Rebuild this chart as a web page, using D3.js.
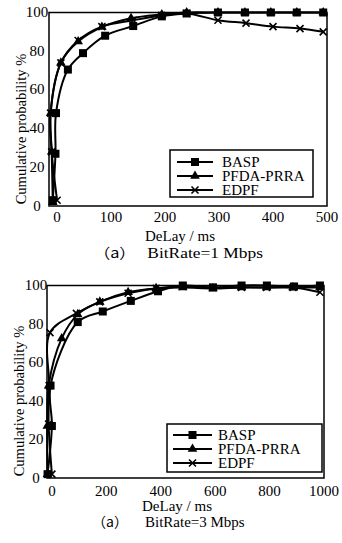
<!DOCTYPE html>
<html><head><meta charset="utf-8">
<script src="https://cdn.jsdelivr.net/npm/d3@7"></script>
<style>
body{margin:0;background:#fff;}
svg{display:block;}
text{font-family:"Liberation Serif","Times New Roman",serif;fill:#000;}
</style></head>
<body>
<script>
// ---------- data ----------
const seriesNames = ["BASP", "PFDA-PRRA", "EDPF"];
const yTicks = [0, 20, 40, 60, 80, 100];
const xTicks1 = [0, 100, 200, 300, 400, 500];
const xTicks2 = [0, 200, 400, 600, 800, 1000];

// Chart (a) BitRate = 1 Mbps
const basp1X = [-8, -3, -2, 20, 48, 89, 141, 194, 240, 298, 348, 396, 444, 493];
const basp1Y = [3, 27, 48, 70.5, 79, 88, 93, 98, 99.5, 100, 100, 100, 100, 100];
const pfda1X = [-8, -10, -12, 7, 39, 83, 137, 194, 240, 298, 348, 396, 444, 493];
const pfda1Y = [2, 28, 48, 74, 85, 92.5, 97, 99, 100, 100, 100, 100, 100, 100];
const edpf1X = [0, -10, -12, 7, 39, 83, 141, 194, 240, 298, 350, 400, 450, 493];
const edpf1Y = [3, 28, 48, 74, 85.5, 92.7, 96, 98.5, 99.5, 96, 94.5, 92.7, 91.7, 90];

// Chart (a) BitRate = 3 Mbps
const basp2X = [-16, 0, -5, 95, 187, 290, 390, 481, 592, 697, 790, 890, 985];
const basp2Y = [2, 27, 48, 81, 86.5, 92, 97, 100, 99, 100, 100, 99.5, 100];
const pfda2X = [-16, -17, -12, 36, 95, 176, 280, 383, 481, 592, 697, 789, 886, 985];
const pfda2Y = [2, 27, 48, 72.5, 85, 91.5, 96.5, 98.5, 99, 98.5, 99, 99, 99, 99];
const edpf2X = [0, -12, -10, -7, 90, 176, 280, 383, 481, 592, 697, 789, 886, 985];
const edpf2Y = [2, 28, 48, 75.5, 85.5, 91.5, 96, 98.5, 99.5, 99, 99, 99, 99, 96.5];

// ---------- drawing ----------
const svg = d3.select("body").append("svg").attr("width", 342).attr("height", 543);

function marker(g, type, cx, cy) {
  if (type === "square") {
    g.append("rect").attr("x", cx - 4).attr("y", cy - 4).attr("width", 8).attr("height", 8).attr("fill", "#000");
  } else if (type === "triangle") {
    g.append("path").attr("d", d3.symbol().type(d3.symbolTriangle).size(40)()).attr("transform", `translate(${cx},${cy})`).attr("fill", "#000");
  } else {
    const s = 3.5;
    g.append("path").attr("d", `M${cx - s},${cy - s}L${cx + s},${cy + s}M${cx - s},${cy + s}L${cx + s},${cy - s}`)
      .attr("stroke", "#000").attr("stroke-width", 1.6).attr("fill", "none");
  }
}

function drawChart(cfg) {
  const x = d3.scaleLinear().domain(cfg.xDomain).range([cfg.left, cfg.right]);
  const y = d3.scaleLinear().domain([0, 100]).range([cfg.bottom, cfg.top]);
  const g = svg.append("g");

  // frame
  g.append("rect").attr("x", cfg.left).attr("y", cfg.top)
    .attr("width", cfg.right - cfg.left).attr("height", cfg.bottom - cfg.top)
    .attr("fill", "none").attr("stroke", "#000").attr("stroke-width", 1.5);

  // y tick labels
  g.selectAll(".yt").data(yTicks).enter().append("text")
    .attr("x", cfg.yLabX).attr("y", d => y(d)).attr("dy", "0.3em")
    .attr("text-anchor", "middle").attr("font-size", 15).text(d => d);

  // x tick labels
  g.selectAll(".xt").data(cfg.xTicks).enter().append("text")
    .attr("x", d => x(d)).attr("y", cfg.bottom + cfg.xLabDy)
    .attr("text-anchor", "middle").attr("font-size", 15).text(d => d);

  // y title
  g.append("text").attr("transform", `translate(${cfg.yTitleX},${cfg.yTitleY}) rotate(-90)`)
    .attr("text-anchor", "middle").attr("font-size", 14.5).text("Cumulative probability %");

  // x title
  g.append("text").attr("x", cfg.xTitleX).attr("y", cfg.xTitleY)
    .attr("text-anchor", "middle").attr("font-size", 15).text("DeLay / ms");

  // caption
  const cap = g.append("text").attr("transform", `translate(${cfg.capX},${cfg.capY}) scale(${cfg.capScale},1)`)
    .attr("font-size", 15);
  cap.append("tspan").attr("x", 0).attr("font-family", "'Noto Sans CJK SC'").attr("font-size", 14).text("（a）");
  cap.append("tspan").attr("x", cfg.capGap).text(cfg.caption);

  // series
  const line = d3.line().x(d => x(d[0])).y(d => y(d[1])).curve(d3.curveCatmullRom.alpha(0.5));
  const types = ["square", "triangle", "cross"];
  cfg.series.forEach((s) => {
    const pts = s.xs.map((v, k) => [v, s.ys[k]]);
    g.append("path").attr("d", line(pts)).attr("fill", "none").attr("stroke", "#000").attr("stroke-width", 2);
  });
  cfg.series.forEach((s, i) => {
    s.xs.forEach((v, k) => marker(g, types[i], x(v), y(s.ys[k])));
  });

  // legend
  const L = cfg.legend;
  g.append("rect").attr("x", L.x).attr("y", L.y).attr("width", L.w).attr("height", L.h)
    .attr("fill", "#fff").attr("stroke", "#000").attr("stroke-width", 1.5);
  seriesNames.forEach((name, i) => {
    const ly = L.y + L.first + i * L.step;
    g.append("line").attr("x1", L.x + L.lx1).attr("x2", L.x + L.lx2).attr("y1", ly).attr("y2", ly)
      .attr("stroke", "#000").attr("stroke-width", 2);
    marker(g, types[i], L.x + (L.lx1 + L.lx2) / 2, ly);
    g.append("text").attr("x", L.x + L.tx).attr("y", ly).attr("dy", "0.33em")
      .attr("font-size", 15).text(name);
  });
}

drawChart({
  xDomain: [-15, 500], xTicks: xTicks1,
  left: 49, right: 327, top: 12.5, bottom: 206,
  yLabX: 37, xLabDy: 16, yTitleX: 26, yTitleY: 129,
  xTitleX: 180, xTitleY: 241,
  capX: 94, capY: 258, capScale: 1.16, capGap: 46, caption: "BitRate=1 Mbps",
  series: [{xs: basp1X, ys: basp1Y}, {xs: pfda1X, ys: pfda1Y}, {xs: edpf1X, ys: edpf1Y}],
  legend: {x: 170, y: 150, w: 143, h: 47, first: 12, step: 14, lx1: 7, lx2: 43, tx: 52}
});

drawChart({
  xDomain: [-18, 1000], xTicks: xTicks2,
  left: 47, right: 324, top: 285.5, bottom: 478,
  yLabX: 36, xLabDy: 18, yTitleX: 24, yTitleY: 401,
  xTitleX: 177, xTitleY: 511,
  capX: 92, capY: 527, capScale: 1.0, capGap: 53, caption: "BitRate=3 Mbps",
  series: [{xs: basp2X, ys: basp2Y}, {xs: pfda2X, ys: pfda2Y}, {xs: edpf2X, ys: edpf2Y}],
  legend: {x: 167, y: 424, w: 155, h: 48, first: 11, step: 14, lx1: 6, lx2: 45, tx: 51}
});
</script>
</body></html>
